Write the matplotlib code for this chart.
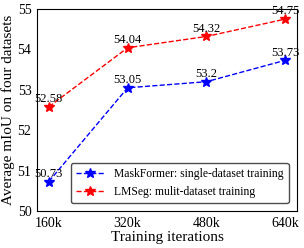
import matplotlib
matplotlib.use("Agg")
import matplotlib.pyplot as plt

iters = ["160k", "320k", "480k", "640k"]
maskformer = [50.73, 53.05, 53.2, 53.73]
lmseg = [52.58, 54.04, 54.32, 54.75]
mf_labels = ["50.73", "53.05", "53.2", "53.73"]
lm_labels = ["52.58", "54.04", "54.32", "54.75"]

plt.rcParams['font.family'] = ['Liberation Serif', 'DejaVu Serif']
plt.rcParams['mathtext.fontset'] = 'stix'

fig = plt.figure(figsize=(3.04, 2.48), dpi=100)
ax = fig.add_axes([37/304, 37/248, 260/304, 202/248])

x = range(len(iters))
ax.plot(x, maskformer, 'b*--', markersize=7, linewidth=1,
        label="MaskFormer: single-dataset training")
ax.plot(x, lmseg, 'r*--', markersize=7, linewidth=1,
        label="LMSeg: mulit-dataset training")

for i, (v, s) in enumerate(zip(maskformer, mf_labels)):
    ax.text(i, v + 0.04, s, ha='center', va='bottom', fontsize=9)
for i, (v, s) in enumerate(zip(lmseg, lm_labels)):
    ax.text(i, v + 0.04, s, ha='center', va='bottom', fontsize=9)

ax.set_xticks(list(x))
ax.set_xticklabels(iters)
ax.set_xlim(-0.15, 3.15)
ax.set_ylim(50, 55)
ax.set_yticks([50, 51, 52, 53, 54, 55])
ax.tick_params(labelsize=10, length=0, pad=4)
ax.set_xlabel("Training iterations", fontsize=11, labelpad=1)
ax.set_ylabel("Average mIoU on four datasets", fontsize=11, labelpad=2)
ax.legend(loc='lower right', fontsize=8.4, handlelength=2.4, framealpha=1,
          edgecolor='0.3', fancybox=True, borderpad=0.45,
          bbox_to_anchor=(0.99, 0.01))

fig.savefig("out.png", dpi=100)
